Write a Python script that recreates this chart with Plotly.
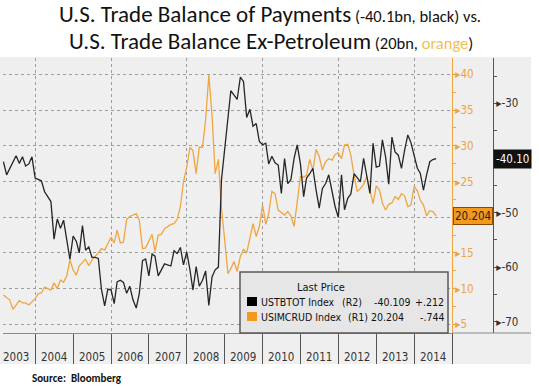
import plotly.graph_objects as go

# ---------------- data ----------------
black_dates = [
    "2003-03", "2003-04", "2003-07", "2003-08", "2003-09", "2003-10", "2003-11", "2003-12",
    "2004-01", "2004-02", "2004-03", "2004-04", "2004-06", "2004-07", "2004-08", "2004-09", "2004-10", "2004-12",
    "2005-01", "2005-02", "2005-03", "2005-04", "2005-05", "2005-06", "2005-07", "2005-08", "2005-09", "2005-10", "2005-11", "2005-12",
    "2006-01", "2006-02", "2006-03", "2006-04", "2006-05", "2006-06", "2006-07", "2006-08", "2006-09", "2006-10", "2006-11", "2006-12",
    "2007-01", "2007-02", "2007-03", "2007-04", "2007-05", "2007-06", "2007-08", "2007-09", "2007-10", "2007-11", "2007-12",
    "2008-01", "2008-02", "2008-03", "2008-04", "2008-05", "2008-06", "2008-07", "2008-08", "2008-09", "2008-10", "2008-11", "2008-12",
    "2009-01", "2009-03", "2009-04", "2009-05", "2009-06", "2009-07", "2009-08", "2009-09", "2009-10", "2009-11", "2009-12",
    "2010-01", "2010-02", "2010-03", "2010-04", "2010-05", "2010-06", "2010-07", "2010-08", "2010-09", "2010-10", "2010-11", "2010-12",
    "2011-01", "2011-02", "2011-03", "2011-04", "2011-05", "2011-06", "2011-07", "2011-08", "2011-09", "2011-10", "2011-11", "2011-12",
    "2012-01", "2012-02", "2012-03", "2012-04", "2012-05", "2012-06", "2012-07", "2012-08", "2012-09", "2012-10", "2012-11", "2012-12",
    "2013-01", "2013-02", "2013-03", "2013-04", "2013-05", "2013-06", "2013-07", "2013-08", "2013-09", "2013-10", "2013-11", "2013-12",
    "2014-01", "2014-02", "2014-03", "2014-04", "2014-05", "2014-06", "2014-07", "2014-08",
]
black_vals = [
    -40.7, -43.1, -39.6, -41.0, -39.8, -41.5, -41.1, -39.8,
    -43.7, -44.0, -44.2, -46.2, -48.0, -54.9, -51.2, -52.9, -51.4, -58.6,
    -54.3, -55.3, -57.4, -52.4, -56.9, -56.3, -58.2, -58.2, -58.4, -64.1, -67.1, -64.1,
    -64.1, -66.7, -62.7, -62.4, -62.8, -64.8, -63.5, -66.0, -67.5, -64.8, -58.8, -58.5,
    -61.6, -57.6, -58.0, -61.6, -60.5, -59.4, -59.8, -57.0, -57.5, -56.4, -59.6,
    -57.2, -60.5, -64.2, -59.9, -63.5, -62.4, -60.7, -67.0, -61.8, -60.5, -60.0, -44.0,
    -38.0, -27.7, -28.5, -29.3, -25.2, -26.0, -32.6, -31.1, -34.2, -33.7, -37.0,
    -37.6, -37.3, -41.1, -39.7, -40.9, -41.3, -46.5, -40.1, -44.7, -44.0, -40.1, -37.6,
    -41.1, -47.1, -43.7, -42.9, -41.9, -45.9, -49.2, -45.6, -44.7, -43.1, -46.3, -48.9,
    -50.9, -43.1, -49.5, -47.4, -46.6, -42.9, -43.6, -44.4, -40.1, -43.1, -46.5, -37.3,
    -41.7, -41.5, -36.7, -39.8, -44.8, -36.2, -38.9, -39.5, -41.9, -38.6, -35.8, -37.2,
    -39.5, -41.9, -42.8, -45.9, -43.1, -40.7, -40.3, -40.109,
]

orange_dates = [
    "2003-03", "2003-05", "2003-06", "2003-08", "2003-09", "2003-10", "2003-11",
    "2004-01", "2004-02", "2004-03", "2004-04", "2004-05", "2004-06", "2004-07", "2004-08", "2004-09", "2004-10", "2004-11", "2004-12",
    "2005-01", "2005-02", "2005-03", "2005-05", "2005-06", "2005-07", "2005-09", "2005-10", "2005-11", "2005-12",
    "2006-01", "2006-02", "2006-03", "2006-04", "2006-05", "2006-06", "2006-07", "2006-09", "2006-10", "2006-11", "2006-12",
    "2007-02", "2007-03", "2007-04", "2007-05", "2007-06", "2007-08", "2007-09", "2007-10", "2007-11", "2007-12",
    "2008-01", "2008-02", "2008-03", "2008-04", "2008-05", "2008-06", "2008-07", "2008-08", "2008-09", "2008-10", "2008-11", "2008-12",
    "2009-01", "2009-02", "2009-03", "2009-04", "2009-05", "2009-06", "2009-07", "2009-08", "2009-10", "2009-11", "2009-12",
    "2010-01", "2010-02", "2010-03", "2010-04", "2010-05", "2010-06", "2010-07", "2010-08", "2010-09", "2010-10", "2010-11", "2010-12",
    "2011-01", "2011-02", "2011-03", "2011-04", "2011-05", "2011-06", "2011-07", "2011-08", "2011-09", "2011-10", "2011-11", "2011-12",
    "2012-01", "2012-02", "2012-03", "2012-04", "2012-05", "2012-06", "2012-07", "2012-08", "2012-09", "2012-10", "2012-11", "2012-12",
    "2013-01", "2013-02", "2013-03", "2013-04", "2013-05", "2013-06", "2013-07", "2013-08", "2013-09", "2013-10", "2013-11", "2013-12",
    "2014-01", "2014-02", "2014-03", "2014-04", "2014-05", "2014-06", "2014-07", "2014-08",
]
orange_vals = [
    9.1, 8.4, 7.1, 8.3, 8.0, 8.0, 7.7,
    8.6, 9.3, 9.4, 10.2, 10.0, 9.8, 10.8, 10.0, 11.2, 10.9, 11.8, 14.0,
    12.6, 11.9, 13.2, 14.1, 13.2, 14.0, 15.0, 15.6, 15.4, 16.4,
    17.2, 16.4, 18.2, 16.4, 16.5, 19.7, 20.1, 20.5, 19.6, 15.6, 15.7,
    17.6, 15.2, 17.5, 17.6, 18.4, 19.0, 19.1, 19.7, 21.5, 25.0,
    27.0, 29.8, 29.3, 26.1, 29.8, 29.8, 33.6, 39.9, 34.3, 26.1, 28.1, 21.2,
    16.8, 12.1, 12.8, 13.8, 12.4, 14.5, 15.5, 15.0, 19.1, 17.3, 18.7,
    21.7, 19.0, 20.5, 23.6, 23.3, 21.0, 20.6, 20.3, 20.8, 20.2, 18.7, 21.9,
    25.7, 25.6, 25.9, 28.1, 26.6, 29.5, 28.5, 26.6, 27.8, 28.2, 28.0, 28.8,
    29.0, 28.2, 30.1, 30.2, 28.7, 25.9, 23.6, 24.0, 24.6, 25.7, 23.6, 21.9,
    24.4, 23.8, 22.0, 21.0, 21.8, 22.0, 22.9, 22.5, 23.3, 23.0, 21.5, 21.7,
    24.3, 23.7, 22.4, 21.7, 20.2, 20.9, 20.8, 20.204,
]

years = list(range(2003, 2015))
r1_ticks = [5, 10, 15, 20, 25, 30, 35, 40]
r2_ticks = [-70, -60, -50, -40, -30]

black_name = "USTBTOT Index"
orange_name = "USIMCRUD Index"
black_axis_tag = "(R2)"
orange_axis_tag = "(R1)"
black_last = "-40.109"
orange_last = "20.204"
black_change = "+.212"
orange_change = "-.744"
black_flag = "-40.10"

# ---------------- styling ----------------
W, H = 539, 388
ML, MR, MT, MB = 3, 46, 58, 55
PW = W - ML - MR      # 490
PH = H - MT - MB      # 275

def px(xpix):
    return (xpix - ML) / PW

def py(ypix):
    return (H - MB - ypix) / PH

BG = "#efefef"
ORANGE_LINE = "#f0a640"
ORANGE_TXT = "#eea43c"
ORANGE_FILL = "#f39a1e"
BLACK_LINE = "#262626"
AXIS_GRAY = "#555555"
GRID = "#9c9c9c"
NARROW = "DejaVu Sans Condensed, Liberation Sans Narrow, sans-serif"
TITLE_FONT = "Carlito, Lato, Calibri, sans-serif"

fig = go.Figure()
fig.add_trace(go.Scatter(x=orange_dates, y=orange_vals, mode="lines", name=orange_name,
                         line=dict(color=ORANGE_LINE, width=1.3), xaxis="x", yaxis="y"))
fig.add_trace(go.Scatter(x=black_dates, y=black_vals, mode="lines", name=black_name,
                         line=dict(color=BLACK_LINE, width=1.3), xaxis="x", yaxis="y2"))

xdom_end = (452 - ML) / PW

# tick labels hidden under the last-value flags (as in the reference)
r1_text = ["" if v == 20 else "\u25b8" + str(v) for v in r1_ticks]
r2_text = ["" if v == -40 else "\u25b8" + str(v) for v in r2_ticks]

fig.update_layout(
    width=W, height=H,
    margin=dict(l=ML, r=MR, t=MT, b=MB, pad=0),
    paper_bgcolor="white",
    plot_bgcolor=BG,
    showlegend=False,
    xaxis=dict(
        domain=[0, xdom_end], type="date",
        range=["2003-02-25", "2015-01-01"],
        showticklabels=False,
        ticks="outside", ticklen=30, tickcolor=AXIS_GRAY, tickwidth=1,
        dtick="M24", tick0="2004-01-01",
        showgrid=True, gridcolor=GRID, griddash="dot", gridwidth=1,
        minor=dict(ticks="outside", ticklen=30, dtick="M12", tick0="2004-01-01",
                   tickcolor=AXIS_GRAY, tickwidth=1, showgrid=False),
        showline=True, linecolor="#8a8a8a", linewidth=1,
        zeroline=False, fixedrange=True,
    ),
    yaxis=dict(
        side="right", anchor="x",
        range=[3.78, 42.3],
        tickvals=r1_ticks, ticktext=r1_text,
        tickfont=dict(family=NARROW, size=11.5, color=ORANGE_TXT),
        ticks="", showline=True, linecolor=ORANGE_LINE, linewidth=1,
        showgrid=True, gridcolor=GRID, griddash="dot", gridwidth=1,
        minor=dict(ticks="outside", ticklen=3, dtick=2.5, tick0=0,
                   tickcolor=ORANGE_LINE, showgrid=False),
        zeroline=False,
    ),
    yaxis2=dict(
        overlaying="y", side="right", anchor="free", position=1.0,
        range=[-72.07, -21.7],
        tickvals=r2_ticks, ticktext=r2_text,
        tickfont=dict(family=NARROW, size=11.5, color="#333333"),
        ticks="", showline=True, linecolor=AXIS_GRAY, linewidth=1,
        showgrid=False, zeroline=False,
        minor=dict(ticks="outside", ticklen=3, dtick=5, tick0=0,
                   tickcolor=AXIS_GRAY, showgrid=False),
    ),
)

shapes = []
# grey panel behind everything (plot + axes + year band)
shapes.append(dict(type="rect", xref="paper", yref="paper",
                   x0=px(0), x1=px(531), y0=py(364), y1=py(57),
                   fillcolor=BG, line=dict(width=0), layer="below"))
# line continuing the axis baseline under the right axes
shapes.append(dict(type="line", xref="paper", yref="paper",
                   x0=px(452), x1=px(531), y0=py(333), y1=py(333),
                   line=dict(color="#8a8a8a", width=1)))
# legend box
shapes.append(dict(type="rect", xref="paper", yref="paper",
                   x0=px(240), x1=px(448), y0=py(333), y1=py(272),
                   fillcolor="#e6e6e6", line=dict(color="#5a5a5a", width=1.5)))
shapes.append(dict(type="rect", xref="paper", yref="paper",
                   x0=px(247), x1=px(257), y0=py(306), y1=py(297),
                   fillcolor="#000000", line=dict(width=0)))
shapes.append(dict(type="rect", xref="paper", yref="paper",
                   x0=px(247), x1=px(257), y0=py(321), y1=py(312),
                   fillcolor=ORANGE_FILL, line=dict(width=0)))

ann = []
# year labels in the band
for yr in years:
    ann.append(dict(x=f"{yr}-07-01", xref="x", y=py(357), yref="paper",
                    text=str(yr), showarrow=False, yanchor="middle",
                    font=dict(family=NARROW, size=11.5, color="#333333")))

# last value flags
ann.append(dict(x=1.0, xref="paper", y=black_vals[-1], yref="y2", xanchor="left",
                yanchor="middle",
                text=black_flag, showarrow=False, bgcolor="#111111", borderpad=2,
                font=dict(family=NARROW, size=11.5, color="white")))
ann.append(dict(x=px(453), xref="paper", y=orange_vals[-1], yref="y", xanchor="left",
                yanchor="middle",
                text=orange_last, showarrow=False, bgcolor=ORANGE_FILL, borderpad=1,
                bordercolor="#8a4a00", borderwidth=1,
                font=dict(family=NARROW, size=11.5, color="#222222")))

# legend texts
LF = dict(family=NARROW, size=10.5, color="#111111")
ann.append(dict(x=px(347), xref="paper", y=py(287), yref="paper", text="Last Price",
                yanchor="middle", showarrow=False, font=dict(LF, size=11)))
for rowy, nm, tag, tagx, last, lastx, chg in [
        (302, black_name, black_axis_tag, 340, black_last, 412, black_change),
        (317, orange_name, orange_axis_tag, 346, orange_last, 406, orange_change)]:
    ann.append(dict(x=px(259), xref="paper", y=py(rowy), yref="paper", text=nm,
                    xanchor="left", yanchor="middle", showarrow=False, font=LF))
    ann.append(dict(x=px(tagx), xref="paper", y=py(rowy), yref="paper", text=tag,
                    xanchor="left", yanchor="middle", showarrow=False, font=LF))
    ann.append(dict(x=px(lastx), xref="paper", y=py(rowy), yref="paper", text=last,
                    xanchor="right", yanchor="middle", showarrow=False, font=LF))
    ann.append(dict(x=px(446), xref="paper", y=py(rowy), yref="paper", text=chg,
                    xanchor="right", yanchor="middle", showarrow=False, font=LF))

# title
ann.append(dict(x=px(270), xref="paper", y=py(14), yref="paper", showarrow=False,
                yanchor="middle",
                text='<span style="font-size:23px">U.S. Trade Balance of Payments</span>'
                     '<span style="font-size:16.5px"> (-40.1bn, black) vs.</span>',
                font=dict(family=TITLE_FONT, size=23, color="#111111")))
ann.append(dict(x=px(271), xref="paper", y=py(41), yref="paper", showarrow=False,
                yanchor="middle",
                text='<span style="font-size:23px">U.S. Trade Balance Ex-Petroleum</span>'
                     '<span style="font-size:16.5px"> (20bn, <span style="color:#f2c14e">orange</span>)</span>',
                font=dict(family=TITLE_FONT, size=23, color="#111111")))
# source
ann.append(dict(x=px(30), xref="paper", y=py(378), yref="paper", xanchor="left",
                yanchor="middle",
                showarrow=False, text="<b>Source:  Bloomberg</b>",
                font=dict(family=TITLE_FONT, size=11, color="#111111")))

fig.update_layout(shapes=shapes, annotations=ann)
fig.write_html("out.html",
               config={"displayModeBar": False, "staticPlot": True},
               post_script="document.body.style.margin='0';document.body.style.overflow='hidden';")
